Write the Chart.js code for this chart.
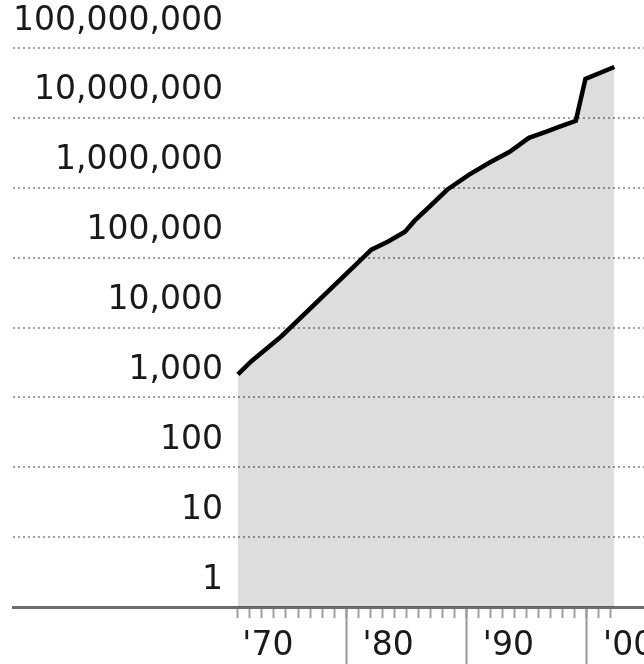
<!DOCTYPE html>
<html>
<head>
<meta charset="utf-8">
<script src="https://cdn.jsdelivr.net/npm/chart.js@4"></script>
<style>
html, body { margin: 0; padding: 0; background: #fff; }
#wrap { width: 644px; height: 664px; }
</style>
</head>
<body>
<div id="wrap"><canvas id="chart"></canvas></div>
<script>
// values (log scale)
var years = [1971, 1972.1, 1974.6, 1981.5, 1982.1, 1983.5, 1984.9, 1985.7, 1987.1, 1988.4,
	1990.2, 1991.9, 1993.6, 1995.2, 1996.6, 1997.7, 1999.1, 1999.9, 2002.3];
var values = [2130, 3270, 7440, 103000, 130000, 170000, 235000, 338000, 571000, 936000,
	1530000, 2280000, 3270000, 5180000, 6310000, 7440000, 9060000, 36100000, 53500000];

var yTicks = [1, 10, 100, 1000, 10000, 100000, 1000000, 10000000, 100000000];
var yTickLabels = ['1', '10', '100', '1,000', '10,000', '100,000', '1,000,000', '10,000,000', '100,000,000'];

var minorYears = [1971, 1972, 1973, 1974, 1975, 1976, 1977, 1978, 1979, 1980,
	1981, 1982, 1983, 1984, 1985, 1986, 1987, 1988, 1989, 1990,
	1991, 1992, 1993, 1994, 1995, 1996, 1997, 1998, 1999, 2000, 2001, 2002];
var decadeYears = [1970, 1980, 1990, 2000];
var decadeLabels = ["'70", "'80", "'90", "'00"];

var labelFont = { family: 'DejaVu Sans', size: 33 };
var xMin = 1952.3, xMax = 2004.77;

var points = years.map(function (yr, i) {
	return { x: yr, y: values[i] };
});

var chart = new Chart(document.getElementById('chart'), {
	type: 'line',
	data: {
		datasets: [{
			data: points,
			borderColor: '#000',
			borderWidth: 4.5,
			borderJoinStyle: 'miter',
			backgroundColor: 'rgba(0, 0, 0, 0.135)',
			fill: 'start',
			pointRadius: 0,
			tension: 0
		}]
	},
	options: {
		responsive: true,
		maintainAspectRatio: false,
		animation: false,
		layout: { padding: { left: 13, right: 0, top: 48, bottom: 46 } },
		plugins: { legend: { display: false }, tooltip: { enabled: false } },
		scales: {
			x: {
				type: 'linear',
				position: 'bottom',
				min: xMin,
				max: xMax,
				afterBuildTicks: function (scale) {
					scale.ticks = minorYears.map(function (v) { return { value: v }; });
				},
				ticks: { display: false },
				grid: { drawOnChartArea: false, tickLength: 11, tickColor: '#a0a0a0', tickWidth: 2 },
				border: { display: true, color: '#6e6e6e', width: 3 }
			},
			xMajor: {
				type: 'linear',
				axis: 'x',
				position: { y: 1 },
				min: xMin,
				max: xMax,
				afterBuildTicks: function (scale) {
					scale.ticks = decadeYears.map(function (v) { return { value: v }; });
				},
				ticks: {
					autoSkip: false,
					maxRotation: 0,
					labelOffset: 42,
					padding: -37,
					font: labelFont,
					color: '#1a1a1a',
					callback: function (v, i) { return decadeLabels[i]; }
				},
				grid: {
					drawOnChartArea: false,
					tickLength: 57,
					tickWidth: 2,
					tickColor: function (c) {
						return c.tick && c.tick.value === 1970 ? 'rgba(0,0,0,0)' : '#999';
					}
				},
				border: { display: false }
			},
			y: {
				type: 'logarithmic',
				min: 1,
				max: 100000000,
				afterBuildTicks: function (scale) {
					scale.ticks = yTicks.map(function (v) { return { value: v }; });
				},
				ticks: {
					mirror: true,
					crossAlign: 'far',
					padding: 0,
					labelOffset: -27,
					autoSkip: false,
					font: labelFont,
					color: '#1a1a1a',
					callback: function (v, i) { return yTickLabels[i]; }
				},
				grid: { color: '#a0a0a0', lineWidth: 2, drawTicks: false },
				border: { display: false, dash: [2, 3] }
			}
		}
	}
});
</script>
</body>
</html>
